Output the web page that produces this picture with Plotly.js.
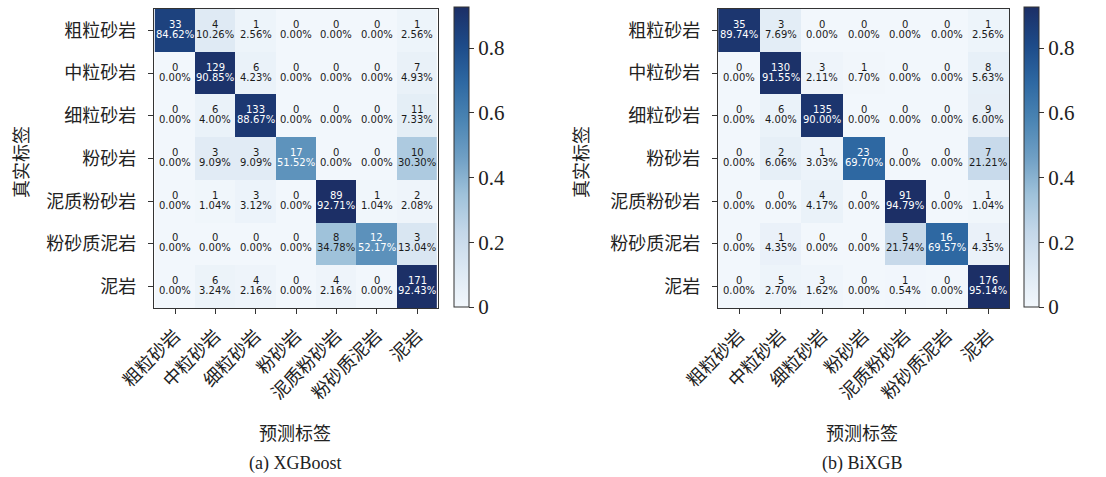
<!DOCTYPE html>
<html>
<head>
<meta charset="utf-8">
<script src="https://cdn.plot.ly/plotly-3.0.1.min.js"></script>
<style>
  html, body { margin: 0; padding: 0; background: #fff; }
  #chart { width: 1106px; height: 477px; }
</style>
</head>
<body>
<div id="chart"></div>
<script>
// Lithology classes (rows = true label, columns = predicted label)
const classes = ['粗粒砂岩', '中粒砂岩', '细粒砂岩', '粉砂岩', '泥质粉砂岩', '粉砂质泥岩', '泥岩'];

// XGBoost: sample counts per cell
const xgbCounts = [
  [33, 4, 1, 0, 0, 0, 1],
  [0, 129, 6, 0, 0, 0, 7],
  [0, 6, 133, 0, 0, 0, 11],
  [0, 3, 3, 17, 0, 0, 10],
  [0, 1, 3, 0, 89, 1, 2],
  [0, 0, 0, 0, 8, 12, 3],
  [0, 6, 4, 0, 4, 0, 171]
];
// XGBoost: row-normalised share, in percent
const xgbPercent = [
  [84.62, 10.26, 2.56, 0.00, 0.00, 0.00, 2.56],
  [0.00, 90.85, 4.23, 0.00, 0.00, 0.00, 4.93],
  [0.00, 4.00, 88.67, 0.00, 0.00, 0.00, 7.33],
  [0.00, 9.09, 9.09, 51.52, 0.00, 0.00, 30.30],
  [0.00, 1.04, 3.12, 0.00, 92.71, 1.04, 2.08],
  [0.00, 0.00, 0.00, 0.00, 34.78, 52.17, 13.04],
  [0.00, 3.24, 2.16, 0.00, 2.16, 0.00, 92.43]
];

// BiXGB: sample counts per cell
const bixgbCounts = [
  [35, 3, 0, 0, 0, 0, 1],
  [0, 130, 3, 1, 0, 0, 8],
  [0, 6, 135, 0, 0, 0, 9],
  [0, 2, 1, 23, 0, 0, 7],
  [0, 0, 4, 0, 91, 0, 1],
  [0, 1, 0, 0, 5, 16, 1],
  [0, 5, 3, 0, 1, 0, 176]
];
// BiXGB: row-normalised share, in percent
const bixgbPercent = [
  [89.74, 7.69, 0.00, 0.00, 0.00, 0.00, 2.56],
  [0.00, 91.55, 2.11, 0.70, 0.00, 0.00, 5.63],
  [0.00, 4.00, 90.00, 0.00, 0.00, 0.00, 6.00],
  [0.00, 6.06, 3.03, 69.70, 0.00, 0.00, 21.21],
  [0.00, 0.00, 4.17, 0.00, 94.79, 0.00, 1.04],
  [0.00, 4.35, 0.00, 0.00, 21.74, 69.57, 4.35],
  [0.00, 2.70, 1.62, 0.00, 0.54, 0.00, 95.14]
];

// Colour-bar ticks
const cbarTickVals = [0, 0.2, 0.4, 0.6, 0.8];
const cbarTickText = ['0', '0.2', '0.4', '0.6', '0.8'];

const panelTitles = ['(a) XGBoost', '(b) BiXGB'];
const xTitle = '预测标签';
const yTitle = '真实标签';

// Muted sequential blue scale
const blues = [
  [0.000, '#f2f7fc'],
  [0.125, '#dce8f3'],
  [0.250, '#c4d7e9'],
  [0.375, '#9fc2da'],
  [0.500, '#6f9fc4'],
  [0.625, '#4a84b3'],
  [0.750, '#2e68a2'],
  [0.875, '#1d4a88'],
  [1.000, '#1c2f66']
];
const zMax = 0.927;

const W = 1106, H = 477;
const px = v => v / W;           // horizontal pixel -> paper
const py = v => 1 - v / H;       // vertical pixel (from top) -> paper

const cjk = '"Noto Sans CJK SC", sans-serif';
const serif = '"Liberation Serif", "Times New Roman", serif';
const cellFont = '"DejaVu Sans", sans-serif';

const panels = [
  { counts: xgbCounts, pct: xgbPercent, xa: 'x', ya: 'y',
    xDom: [px(154), px(438)], cbX: px(454), titleX: px(295), yTitleX: px(20) },
  { counts: bixgbCounts, pct: bixgbPercent, xa: 'x2', ya: 'y2',
    xDom: [px(718), px(1009)], cbX: px(1024), titleX: px(862), yTitleX: px(580) }
];
const yDom = [py(308), py(9)];

const traces = [];
const annotations = [];

panels.forEach((p, k) => {
  const z = p.pct.map(row => row.map(v => v / 100));
  traces.push({
    type: 'heatmap',
    x: classes, y: classes, z: z,
    xaxis: p.xa, yaxis: p.ya,
    zmin: 0, zmax: zMax,
    colorscale: blues,
    hoverinfo: 'skip',
    colorbar: {
      x: p.cbX, xanchor: 'left', xpad: 0, ypad: 0,
      y: py(157), yanchor: 'middle',
      len: 300, lenmode: 'pixels',
      thickness: 15, thicknessmode: 'pixels',
      outlinewidth: 1, outlinecolor: '#333',
      ticks: 'outside', ticklen: 5, tickcolor: '#333', tickwidth: 1,
      tickvals: cbarTickVals, ticktext: cbarTickText,
      tickfont: { family: serif, size: 21, color: '#222' }
    }
  });

  // Cell labels: count on top, percentage underneath
  p.counts.forEach((row, i) => {
    row.forEach((c, j) => {
      const pct = p.pct[i][j];
      const col = pct / 100 > zMax / 2 ? '#ffffff' : '#1a1a1a';
      annotations.push({
        xref: p.xa, yref: p.ya, x: classes[j], y: classes[i],
        text: String(c), showarrow: false, yshift: 6,
        font: { family: cellFont, size: 10, color: col }
      });
      annotations.push({
        xref: p.xa, yref: p.ya, x: classes[j], y: classes[i],
        text: pct.toFixed(2) + '%', showarrow: false, yshift: -4,
        font: { family: cellFont, size: 10, color: col }
      });
    });
  });

  // Axis titles and panel caption
  annotations.push({
    xref: 'paper', yref: 'paper', x: p.yTitleX, y: py(162),
    xanchor: 'center', yanchor: 'middle',
    text: yTitle, textangle: -90, showarrow: false,
    font: { family: cjk, size: 18, color: '#222' }
  });
  annotations.push({
    xref: 'paper', yref: 'paper', x: p.titleX, y: py(432),
    xanchor: 'center', yanchor: 'middle',
    text: xTitle, showarrow: false,
    font: { family: cjk, size: 18, color: '#222' }
  });
  annotations.push({
    xref: 'paper', yref: 'paper', x: p.titleX, y: py(463),
    xanchor: 'center', yanchor: 'middle',
    text: panelTitles[k], showarrow: false,
    font: { family: serif, size: 18, color: '#222' }
  });
});

const axisCommon = {
  type: 'category',
  showgrid: false, zeroline: false,
  showline: true, mirror: true, linecolor: '#333', linewidth: 1.2,
  ticks: 'outside', ticklen: 5, tickcolor: '#333', tickwidth: 1,
  tickfont: { family: cjk, size: 18, color: '#222' }
};

const layout = {
  width: W, height: H,
  margin: { l: 0, r: 0, t: 0, b: 0 },
  paper_bgcolor: '#fff', plot_bgcolor: '#fff',
  showlegend: false,
  xaxis: Object.assign({}, axisCommon, { domain: panels[0].xDom, anchor: 'y', tickangle: -45, ticklabelstandoff: 4 }),
  yaxis: Object.assign({}, axisCommon, { domain: yDom, anchor: 'x', autorange: 'reversed', ticklabelstandoff: 8 }),
  xaxis2: Object.assign({}, axisCommon, { domain: panels[1].xDom, anchor: 'y2', tickangle: -45, ticklabelstandoff: 4 }),
  yaxis2: Object.assign({}, axisCommon, { domain: yDom, anchor: 'x2', autorange: 'reversed', ticklabelstandoff: 8 }),
  annotations: annotations
};

Plotly.newPlot('chart', traces, layout, { staticPlot: true, displayModeBar: false });
</script>
</body>
</html>
